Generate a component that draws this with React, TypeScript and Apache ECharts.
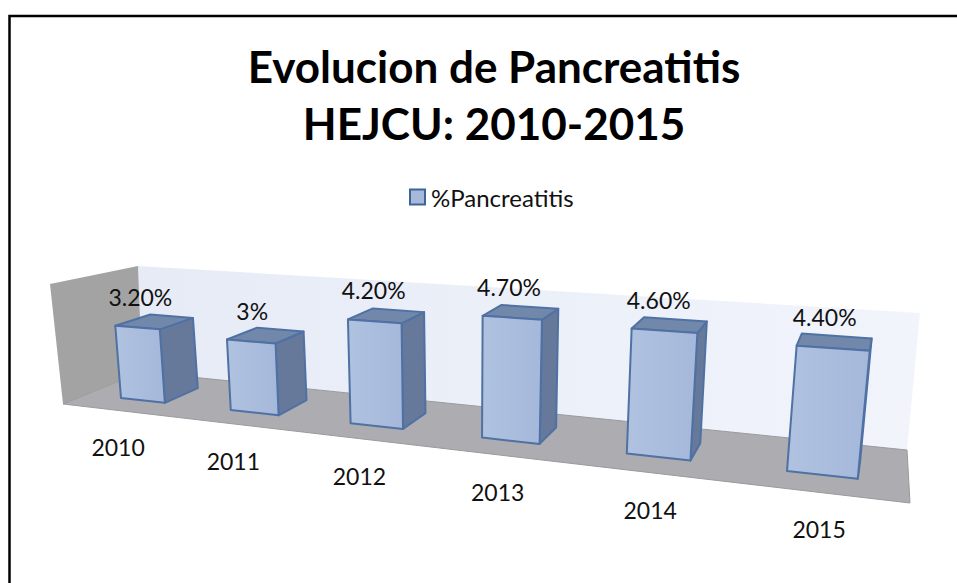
import React, { useEffect, useRef } from "react";
import * as echarts from "echarts";

const categories = ["2010", "2011", "2012", "2013", "2014", "2015"];
const values = [3.2, 3, 4.2, 4.7, 4.6, 4.4];
const valueLabels = ["3.20%", "3%", "4.20%", "4.70%", "4.60%", "4.40%"];
const seriesName = "%Pancreatitis";
const titleLines = "Evolucion de Pancreatitis\nHEJCU: 2010-2015";

const FONT = "Lato, Carlito, Calibri, sans-serif";
const GRID = { left: 100, top: 290, width: 720, height: 130 };
const VMAX = 5;
const BAR = 0.41;
const VP = [913, 70];
const DEPTH = 0.044;

type P = [number, number];

function solve(A: number[][], b: number[]) {
  const n = b.length;
  const M = A.map((r, i) => [...r, b[i]]);
  for (let c = 0; c < n; c++) {
    let p = c;
    for (let r = c + 1; r < n; r++) if (Math.abs(M[r][c]) > Math.abs(M[p][c])) p = r;
    [M[c], M[p]] = [M[p], M[c]];
    for (let r = 0; r < n; r++) {
      if (r === c) continue;
      const f = M[r][c] / M[c][c];
      for (let k = c; k <= n; k++) M[r][k] -= f * M[c][k];
    }
  }
  return M.map((r, i) => r[n] / r[i]);
}

function homography(src: P[], dst: P[]) {
  const A: number[][] = [];
  const b: number[] = [];
  src.forEach(([x, y], i) => {
    const [X, Y] = dst[i];
    A.push([x, y, 1, 0, 0, 0, -x * X, -y * X]);
    b.push(X);
    A.push([0, 0, 0, x, y, 1, -x * Y, -y * Y]);
    b.push(Y);
  });
  const h = solve(A, b);
  return ([x, y]: P): P => {
    const w = h[6] * x + h[7] * y + 1;
    return [(h[0] * x + h[1] * y + h[2]) / w, (h[3] * x + h[4] * y + h[5]) / w];
  };
}

const band = GRID.width / categories.length;
const yBase = GRID.top + GRID.height;
const leftOf = (i: number) => GRID.left + band * (i + 0.5 - BAR / 2);
const project = homography(
  [
    [leftOf(0), yBase],
    [leftOf(5), yBase],
    [leftOf(0), GRID.top],
    [leftOf(5), GRID.top],
  ],
  [
    [121, 398],
    [787, 471],
    [112, 284],
    [798, 328],
  ]
);

const back = (p: P): P => [p[0] + DEPTH * (VP[0] - p[0]), p[1] + DEPTH * (VP[1] - p[1])];

function renderBar(params: any, api: any) {
  const i = api.value(0);
  const v = api.value(1);
  const top = api.coord([i, v]);
  const bottom = api.coord([i, 0]);
  const w = (api.size([1, 0])[0] * BAR) / 2;
  const fl = project([top[0] - w, bottom[1]]);
  const fr = project([top[0] + w, bottom[1]]);
  const tl = project([top[0] - w, top[1]]);
  const tr = project([top[0] + w, top[1]]);
  const stroke = { stroke: "#4f71a3", lineWidth: 2, lineJoin: "round" };
  const mid = project([top[0], top[1]]);
  const base = project([top[0], bottom[1]]);
  const labelX = base[0] - 0.032 * (VP[0] - base[0]);
  const labelY = base[1] + 0.1 * (base[1] - VP[1]) + 14;
  return {
    type: "group",
    children: [
      {
        type: "polygon",
        shape: { points: [tr, back(tr), back(fr), fr] },
        style: { fill: "#66799b", ...stroke },
      },
      {
        type: "polygon",
        shape: { points: [tl, back(tl), back(tr), tr] },
        style: { fill: "#7288aa", ...stroke },
      },
      {
        type: "polygon",
        shape: { points: [tl, tr, fr, fl] },
        style: {
          fill: new echarts.graphic.LinearGradient(0, 0, 1, 0, [
            { offset: 0, color: "#afc2e0" },
            { offset: 1, color: "#a6b8da" },
          ]),
          ...stroke,
        },
      },
      {
        type: "text",
        style: {
          text: valueLabels[i],
          x: mid[0] + 0.016 * (326 - mid[0]),
          y: mid[1] - 31,
          align: "center",
          verticalAlign: "middle",
          font: `23px ${FONT}`,
          fill: "#111",
        },
      },
      {
        type: "text",
        style: {
          text: categories[i],
          x: labelX,
          y: labelY,
          align: "center",
          verticalAlign: "middle",
          font: `23px ${FONT}`,
          fill: "#111",
        },
      },
    ],
  };
}

export default function App() {
  const ref = useRef<HTMLDivElement>(null);
  useEffect(() => {
    document.body.style.margin = "0";
    const chart = echarts.init(ref.current!, undefined, { renderer: "svg" });
    chart.setOption({
      animation: false,
      backgroundColor: "#fff",
      title: {
        text: titleLines,
        left: 489,
        top: 32,
        textAlign: "center",
        textStyle: { fontFamily: FONT, fontWeight: "bold", fontSize: 44, lineHeight: 57, color: "#000" },
      },
      legend: {
        data: [seriesName],
        left: 404,
        top: 180,
        itemWidth: 15,
        itemHeight: 15,
        itemGap: 8,
        textStyle: { fontFamily: FONT, fontSize: 24, color: "#111", padding: [0, 0, 0, 1] },
        itemStyle: { color: "#a7b9da", borderColor: "#3f6497", borderWidth: 2 },
        icon: "rect",
      },
      grid: GRID,
      xAxis: { type: "category", data: categories, show: false },
      yAxis: { type: "value", min: 0, max: VMAX, show: false },
      graphic: [
        {
          type: "polygon",
          z: 0,
          shape: { points: [[138, 266], [920, 313], [907, 450], [142, 372]] },
          style: {
            fill: new echarts.graphic.LinearGradient(0, 0, 1, 0, [
              { offset: 0, color: "#e6ebf6" },
              { offset: 1, color: "#f1f4fb" },
            ]),
          },
        },
        {
          type: "polygon",
          z: 0,
          shape: { points: [[50, 284], [138, 266], [142, 372], [63, 404]] },
          style: { fill: "#a3a3a3" },
        },
        {
          type: "polygon",
          z: 0,
          shape: { points: [[63, 404], [142, 372], [907, 450], [910, 503]] },
          style: { fill: "#acacb1", stroke: "#9a9a9e", lineWidth: 1 },
        },
        {
          type: "polyline",
          z: 1,
          shape: { points: [[9.5, 583], [9.5, 16], [957, 16]] },
          style: { fill: "none", stroke: "#000", lineWidth: 2.5 },
        },
      ],
      series: [
        {
          type: "custom",
          name: seriesName,
          coordinateSystem: "cartesian2d",
          itemStyle: { color: "#a7b9da" },
          encode: { x: 0, y: 1 },
          data: values.map((v, i) => [i, v]),
          renderItem: renderBar,
          clip: false,
        },
      ],
    });
    return () => chart.dispose();
  }, []);
  return <div ref={ref} style={{ width: 957, height: 583 }} />;
}
